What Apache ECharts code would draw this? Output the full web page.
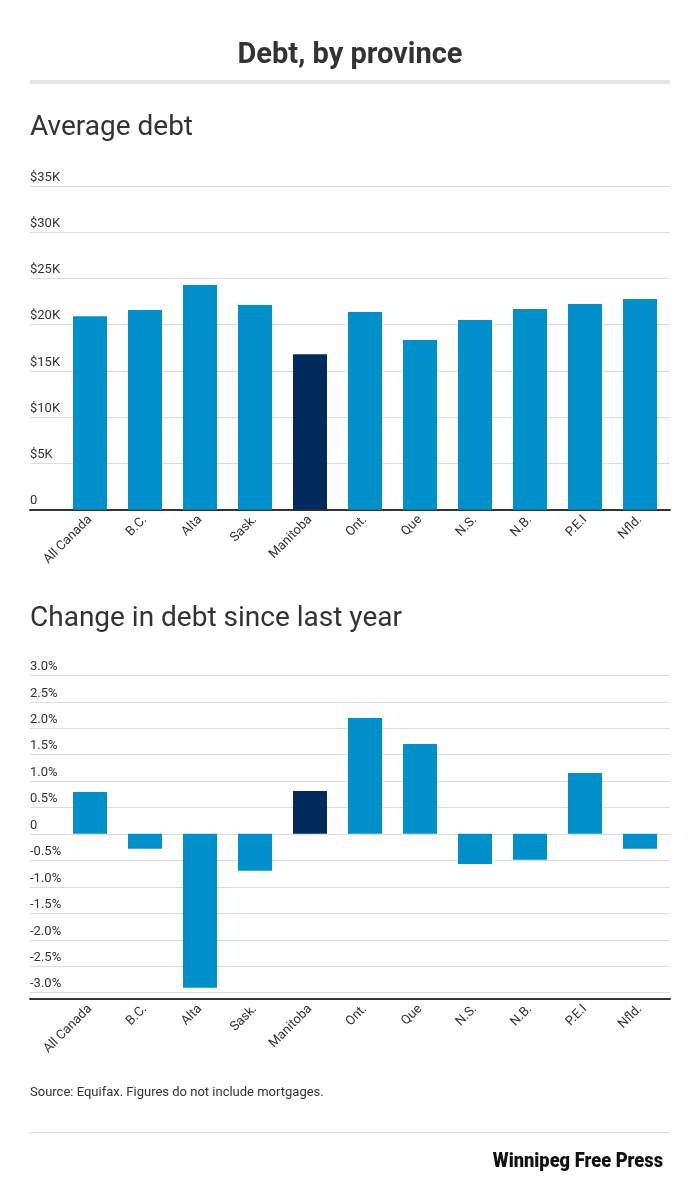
<!DOCTYPE html>
<html>
<head>
<meta charset="utf-8">
<script src="https://cdn.jsdelivr.net/npm/echarts@6/dist/echarts.min.js"></script>
<style>
  html, body { margin: 0; padding: 0; background: #fff; }
  #main { width: 700px; height: 1190px; }
</style>
</head>
<body>
<div id="main"></div>
<script>
// data
var provinces = ['All Canada', 'B.C.', 'Alta', 'Sask.', 'Manitoba', 'Ont.', 'Que', 'N.S.', 'N.B.', 'P.E.I', 'Nfld.'];
var avgDebt = [20930, 21580, 24290, 22120, 16820, 21370, 18340, 20500, 21690, 22230, 22770];
var debtChange = [0.79, -0.28, -2.91, -0.70, 0.81, 2.19, 1.70, -0.57, -0.49, 1.15, -0.28];
var highlight = 'Manitoba';

var blue = '#0091cd';
var navy = '#002b5c';
var font = 'Roboto, "Noto Sans", sans-serif';

function colored(values) {
    return values.map(function (v, i) {
        return { value: v, itemStyle: { color: provinces[i] === highlight ? navy : blue } };
    });
}

var myChart = echarts.init(document.getElementById('main'), null, { renderer: 'canvas' });

// y axis with grid lines and labels sitting on top of the lines
function gridAxis(idx, min, max, interval, fmt) {
    return {
        gridIndex: idx, type: 'value', min: min, max: max, interval: interval,
        axisLine: { show: false }, axisTick: { show: false },
        axisLabel: {
            inside: true, margin: 0, verticalAlign: 'bottom', padding: [0, 0, 2, 0],
            color: '#333', fontSize: 13, fontFamily: font, formatter: fmt
        },
        splitLine: { lineStyle: { color: '#dcdcdc', width: 1 } }
    };
}
function hiddenY(idx, min, max) {
    return { gridIndex: idx, type: 'value', min: min, max: max, show: false };
}
function baseLine(idx, offset) {
    return {
        gridIndex: idx, type: 'value', min: 0, max: 1, offset: offset,
        axisLine: { show: true, onZero: false, lineStyle: { color: '#333', width: 2 } },
        axisTick: { show: false }, axisLabel: { show: false }, splitLine: { show: false }
    };
}
function catAxis(idx) {
    return {
        gridIndex: idx, type: 'category', data: provinces,
        axisLine: { show: false, onZero: false }, axisTick: { show: false },
        axisLabel: { rotate: 45, margin: 8, interval: 0, color: '#333', fontSize: 13, fontFamily: font }
    };
}

var option = {
    animation: false,
    backgroundColor: '#fff',
    grid: [
        { left: 30, right: 30, top: 186, height: 323.7 },
        { left: 62.5, right: 32.5, top: 186, height: 323.7 },
        { left: 30, right: 30, top: 675.3, height: 317.4 },
        { left: 62.5, right: 32.5, top: 675.3, height: 323.7 }
    ],
    xAxis: [baseLine(0, 0), catAxis(1), baseLine(2, 6.3), catAxis(3)],
    yAxis: [
        gridAxis(0, 0, 35000, 5000, function (v) { return v === 0 ? '0' : '$' + (v / 1000) + 'K'; }),
        hiddenY(1, 0, 35000),
        gridAxis(2, -3, 3, 0.5, function (v) { return v === 0 ? '0' : v.toFixed(1) + '%'; }),
        hiddenY(3, -3.125, 3)
    ],
    series: [
        { name: 'Average debt', type: 'bar', xAxisIndex: 1, yAxisIndex: 1, barWidth: 34, data: colored(avgDebt) },
        { name: 'Change in debt', type: 'bar', xAxisIndex: 3, yAxisIndex: 3, barWidth: 34, data: colored(debtChange) }
    ],
    graphic: [
        { type: 'text', left: 'center', top: 41, style: { text: 'Debt, by province', fill: '#333', font: 'bold 29px ' + font } },
        { type: 'rect', shape: { x: 30, y: 80, width: 640, height: 4 }, style: { fill: '#e6e6e6' } },
        { type: 'text', x: 30, y: 128, style: { text: 'Average debt', fill: '#333', font: '28px ' + font, verticalAlign: 'middle' } },
        { type: 'text', x: 30, y: 619, style: { text: 'Change in debt since last year', fill: '#333', font: '28px ' + font, verticalAlign: 'middle' } },
        { type: 'text', x: 30, y: 1093, style: { text: 'Source: Equifax. Figures do not include mortgages.', fill: '#333', font: '13px ' + font, verticalAlign: 'middle' } },
        { type: 'rect', shape: { x: 30, y: 1132, width: 640, height: 1 }, style: { fill: '#dddddd' } },
        { type: 'text', x: 663, y: 1162, scaleX: 0.87, style: { text: 'Winnipeg Free Press', fill: '#111', font: '900 21px ' + font, align: 'right', verticalAlign: 'middle' } }
    ]
};

myChart.setOption(option);
</script>
</body>
</html>
